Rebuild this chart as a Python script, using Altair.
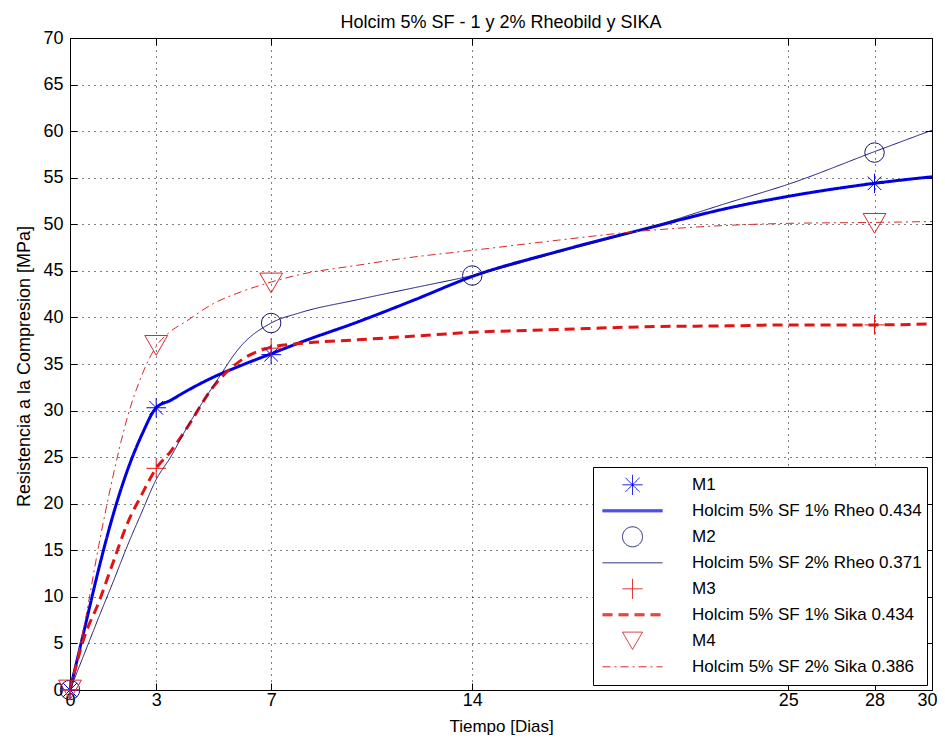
import altair as alt
import pandas as pd

FONT = "Liberation Sans, Arial, Helvetica, sans-serif"

title_text = "Holcim 5% SF - 1 y 2% Rheobild y SIKA"
x_title = "Tiempo [Dias]"
y_title = "Resistencia a la Compresion [MPa]"
x_ticks = [0, 3, 7, 14, 25, 28, 30]
y_ticks = [0, 5, 10, 15, 20, 25, 30, 35, 40, 45, 50, 55, 60, 65, 70]

legend_entries = [
    "M1", "Holcim 5% SF 1% Rheo 0.434",
    "M2", "Holcim 5% SF 2% Rheo 0.371",
    "M3", "Holcim 5% SF 1% Sika 0.434",
    "M4", "Holcim 5% SF 2% Sika 0.386",
]

# measured points (markers)
m1_days = [0, 3, 7, 28]
m1_vals = [0, 30.3, 36.0, 54.4]
m2_days = [0, 7, 14, 28]
m2_vals = [0, 39.4, 44.5, 57.7]
m3_days = [0, 3, 7, 28]
m3_vals = [0, 23.8, 36.7, 39.2]
m4_days = [0, 3, 7, 28]
m4_vals = [0, 37.0, 43.7, 50.1]

# fitted curves
curve_days = [0, 0.5, 1, 1.5, 2, 2.5, 3, 3.5, 4, 5, 6, 7, 8, 10, 12, 14, 17, 20, 23, 25, 28, 30]
c1 = [0, 6.5, 13.0, 18.8, 23.6, 27.4, 30.3, 31.1, 32.0, 33.6, 34.9, 36.1, 37.3, 39.5, 41.9, 44.4, 47.1, 49.5, 51.8, 53.0, 54.4, 55.1]
c2 = [0, 3.9, 7.8, 11.6, 15.5, 19.1, 22.6, 25.0, 27.8, 32.7, 37.1, 39.4, 40.5, 41.9, 43.2, 44.5, 47.0, 49.5, 52.4, 54.3, 57.8, 60.1]
c3 = [0, 5.7, 9.4, 13.7, 17.9, 21.0, 23.8, 25.6, 27.8, 32.6, 35.5, 36.8, 37.2, 37.6, 38.0, 38.4, 38.7, 39.0, 39.1, 39.2, 39.2, 39.3]
c4 = [0, 7.0, 15.5, 23.0, 29.3, 33.8, 36.9, 38.5, 39.5, 41.5, 42.8, 43.8, 44.6, 45.6, 46.5, 47.2, 48.3, 49.3, 49.9, 50.1, 50.2, 50.3]

# styles (per legend entry, in legend order)
colors = ["#0000e6", "#0000e6", "#14147a", "#14147a", "#e01414", "#e01414", "#d42a2a", "#d42a2a"]
ASTERISK = "M-1,0L1,0M0,-1L0,1M-0.7,-0.7L0.7,0.7M-0.7,0.7L0.7,-0.7"
PLUS = "M-1,0L1,0M0,-1L0,1"
THIN_LINE = "M-3,0L3,0"
THICK_LINE = "M-3,-0.1L3,-0.1M-3,0L3,0M-3,0.1L3,0.1"
shapes = [ASTERISK, THICK_LINE, "circle", THIN_LINE, PLUS, THICK_LINE, "triangle-down", THIN_LINE]
dashes = [[1, 0], [1, 0], [1, 0], [1, 0], [1, 0], [10, 6], [1, 0], [8, 4, 2, 4]]


def frame(days, vals, name):
    return pd.DataFrame({"dia": days, "val": vals, "serie": name})


thick_df = pd.concat([frame(curve_days, c1, legend_entries[1]),
                      frame(curve_days, c3, legend_entries[5])])
thin_df = pd.concat([frame(curve_days, c2, legend_entries[3]),
                     frame(curve_days, c4, legend_entries[7])])
pts_df = pd.concat([frame(m1_days, m1_vals, "M1"),
                    frame(m2_days, m2_vals, "M2"),
                    frame(m3_days, m3_vals, "M3")])
tri_df = frame(m4_days, m4_vals, "M4")

xs = alt.Scale(domain=[0, 30], nice=False, zero=False)
ys = alt.Scale(domain=[0, 70], nice=False, zero=False)

legend = alt.Legend(
    title=None, orient="none", legendX=523, legendY=429, direction="vertical",
    strokeColor="black", fillColor="white", padding=5, cornerRadius=0,
    labelFont=FONT, labelFontSize=17, labelColor="black", labelLimit=500,
    symbolSize=400, symbolStrokeWidth=1, symbolOffset=24, labelOffset=49,
    clipHeight=25.6, rowPadding=0,
)

color = alt.Color("serie:N", scale=alt.Scale(domain=legend_entries, range=colors), legend=legend)
shape = alt.Shape("serie:N", scale=alt.Scale(domain=legend_entries, range=shapes), legend=legend)
dash = alt.StrokeDash("serie:N", scale=alt.Scale(domain=legend_entries, range=dashes), legend=legend)

grid_kw = dict(grid=True, gridColor="black", gridDash=[1, 5], gridOpacity=1, gridWidth=1)
tick_kw = dict(ticks=True, tickSize=7, tickColor="black", tickWidth=1, labels=False,
               domain=False, grid=False, title=None)

last_x = x_ticks[-1]
ax_x_main = alt.Axis(orient="bottom", values=x_ticks, ticks=False, domain=False,
                     labelPadding=1, labelFont=FONT, labelFontSize=18, labelColor="black",
                     labelFlush=False, labelOverlap=False,
                     labelAlign={"condition": {"test": f"datum.value === {last_x}", "value": "right"},
                                 "value": "center"},
                     labelOffset={"condition": {"test": f"datum.value === {last_x}", "value": 5},
                                  "value": 0},
                     title=x_title, titleFont=FONT, titleFontSize=17, titleFontWeight="normal",
                     titleColor="black", titleY=41, titleBaseline="alphabetic", **grid_kw)
ax_y_main = alt.Axis(orient="left", values=y_ticks, ticks=False, domain=False,
                     labelPadding=7, labelFont=FONT, labelFontSize=18, labelColor="black",
                     labelFlush=False, labelOverlap=False,
                     title=y_title, titleFont=FONT, titleFontSize=18, titleFontWeight="normal",
                     titleColor="black", titleX=-41, titleY=328, titleBaseline="alphabetic", **grid_kw)
ax_x_bottom_ticks = alt.Axis(orient="top", offset=-652, values=x_ticks, **tick_kw)
ax_x_top_ticks = alt.Axis(orient="bottom", offset=-652, values=x_ticks, **tick_kw)
ax_y_left_ticks = alt.Axis(orient="right", offset=-862, values=y_ticks, **tick_kw)
ax_y_right_ticks = alt.Axis(orient="left", offset=-862, values=y_ticks, **tick_kw)

thick = alt.Chart(thick_df).mark_line(strokeWidth=3, interpolate="monotone").encode(
    x=alt.X("dia:Q", scale=xs, axis=ax_x_main),
    y=alt.Y("val:Q", scale=ys, axis=ax_y_main),
    color=color, strokeDash=dash, detail="serie:N",
)
thin = alt.Chart(thin_df).mark_line(strokeWidth=1, interpolate="monotone").encode(
    x=alt.X("dia:Q", scale=xs, axis=ax_x_bottom_ticks),
    y=alt.Y("val:Q", scale=ys, axis=ax_y_left_ticks),
    color=color, strokeDash=dash, detail="serie:N",
)
pts = alt.Chart(pts_df).mark_point(filled=False, size=380, strokeWidth=1, opacity=1).encode(
    x=alt.X("dia:Q", scale=xs, axis=ax_x_top_ticks),
    y=alt.Y("val:Q", scale=ys, axis=ax_y_right_ticks),
    color=color, shape=shape,
)
tri = alt.Chart(tri_df).mark_point(filled=False, size=520, strokeWidth=1, opacity=1).encode(
    x=alt.X("dia:Q", scale=xs, axis=None),
    y=alt.Y("val:Q", scale=ys, axis=None),
    color=color, shape=shape,
)

chart = alt.layer(thick, thin, pts, tri).resolve_axis(
    x="independent", y="independent"
).properties(
    width=862, height=652,
    title=alt.TitleParams(text=title_text, anchor="middle", frame="group", fontSize=18,
                          fontWeight="normal", font=FONT, color="black",
                          baseline="alphabetic", offset=1, dy=18),
    autosize=alt.AutoSizeParams(type="none"),
    padding={"left": 62, "top": 30, "right": 5, "bottom": 45},
    background="white",
).configure_view(stroke="black", strokeWidth=1)

chart.save("out.html", embed_options={"renderer": "svg", "actions": False})
